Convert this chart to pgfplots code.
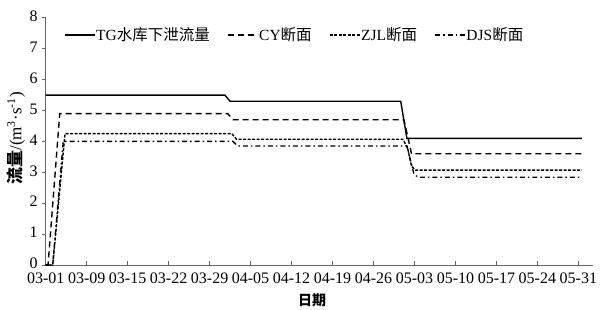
\documentclass[border=0pt]{standalone}
\usepackage{pgfplots}
\pgfplotsset{compat=1.18}
\usepackage{fontspec}
\setmainfont{Liberation Serif}
\newfontfamily\cjk{Noto Sans CJK SC}
\begin{document}
\begin{tikzpicture}
\useasboundingbox (0,0) rectangle (600bp,310bp);
\begin{axis}[
  at={(45.7bp,45bp)}, anchor=south west,
  scale only axis, width=547.3bp, height=247.2bp,
  xmin=0, xmax=93.5, ymin=0, ymax=8,
  axis x line*=bottom, axis y line*=left,
  axis line style={black!60, line width=0.8bp, -},
  xtick={0,7,14,21,28,35,42,49,56,63,70,77,84,91},
  xticklabels={03-01,03-09,03-15,03-22,03-29,04-05,04-12,04-19,04-26,05-03,05-10,05-17,05-24,05-31},
  ytick={0,1,2,3,4,5,6,7,8},
  xtick align=inside, ytick align=outside,
  major tick length=3.5bp,
  tick style={black!60, line width=0.8bp},
  /pgf/number format/assume math mode=true,
  tick label style={font=\fontsize{16bp}{17bp}\selectfont},
  xticklabel style={yshift=-4bp},
  yticklabel style={xshift=-1bp, yshift=1.5bp},
  xlabel={\cjk\bfseries 日期},
  xlabel style={at={(axis description cs:0.4866,-0.1416)}, anchor=center, font=\fontsize{14bp}{16bp}\selectfont},
  ylabel={{\cjk\bfseries 流量}/(m\textsuperscript{3}·s\textsuperscript{-1})},
  ylabel style={at={(axis description cs:-0.0543,0.512)}, anchor=center, rotate=0, font=\fontsize{17bp}{18bp}\selectfont},
  clip=false,
  legend columns=4,
  legend cell align=left,
  legend style={draw=none, fill=none, at={(axis description cs:0.028,0.93)}, anchor=west,
    font=\fontsize{15.5bp}{17bp}\selectfont,
    nodes={inner sep=0.5bp},
    /tikz/every even column/.append style={column sep=17bp}},
  legend image code/.code={\draw[#1] (0bp,0bp) -- (30bp,0bp);},
  every axis plot/.append style={line width=1.4bp, black},
]
\addplot[solid] coordinates {(0,5.5) (30.6,5.5) (31.5,5.3) (60.65,5.3) (61.7,4.1) (91.6,4.1)};
\addlegendentry{TG{\cjk 水库下泄流量}}
\addplot[dash pattern=on 6bp off 4bp] coordinates {(0,0) (0.4,0) (2.4,4.9) (31.1,4.9) (32.0,4.7) (61.2,4.7) (62.5,3.6) (91.6,3.6)};
\addlegendentry{CY{\cjk 断面}}
\addplot[dash pattern=on 3bp off 1.5bp] coordinates {(0,0) (1.2,0) (3.3,4.25) (31.8,4.25) (32.6,4.07) (61.0,4.07) (61.8,3.8) (62.5,3.2) (63.2,3.07) (91.6,3.07)};
\addlegendentry{ZJL{\cjk 断面}}
\addplot[dash pattern=on 5bp off 3bp on 1.5bp off 3bp] coordinates {(0,0) (1.2,0) (3.0,4.0) (32.0,4.0) (32.8,3.85) (61.7,3.85) (62.9,2.95) (63.6,2.84) (91.6,2.84)};
\addlegendentry{DJS{\cjk 断面}}
\end{axis}
\end{tikzpicture}
\end{document}
